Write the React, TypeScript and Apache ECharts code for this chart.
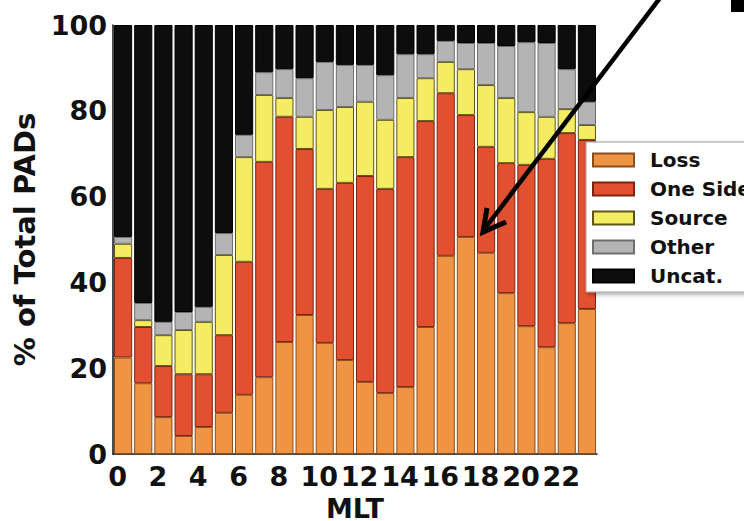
import React, { useEffect, useRef } from "react";
import * as echarts from "echarts";

// Magnetic local time bins
const mlt = Array.from({ length: 24 }, (_, i) => String(i));

// Percent of total PADs in each category per MLT bin
const loss = [22.5, 16.5, 8.6, 4.2, 6.3, 9.6, 13.8, 17.9, 26.1, 32.4, 25.9, 21.9, 16.8, 14.2, 15.6, 29.6, 46.2, 50.6, 46.9, 37.5, 29.8, 24.9, 30.5, 33.8];
const oneSide = [23.2, 13.1, 11.9, 14.4, 12.3, 18.1, 31.0, 50.2, 52.5, 38.7, 35.9, 41.3, 48.0, 47.6, 53.6, 48.0, 37.9, 28.4, 24.7, 30.3, 37.6, 43.9, 44.3, 39.4];
const source = [3.3, 1.6, 7.2, 10.3, 12.2, 18.7, 24.4, 15.6, 4.4, 7.5, 18.4, 17.7, 17.3, 16.1, 13.8, 10.0, 7.3, 10.7, 14.4, 15.2, 12.3, 9.8, 5.6, 3.5];
const other = [1.6, 4.0, 3.1, 4.2, 3.5, 5.1, 5.2, 5.3, 6.7, 9.0, 11.2, 9.8, 8.6, 10.4, 10.2, 5.6, 4.9, 6.1, 9.8, 12.1, 16.3, 17.2, 9.3, 5.4];
const uncat = [49.4, 64.8, 69.2, 66.9, 65.7, 48.5, 25.6, 11.0, 10.3, 12.4, 8.6, 9.3, 9.3, 11.7, 6.8, 6.8, 3.7, 4.2, 4.2, 4.9, 4.0, 4.2, 10.3, 17.9];

const yTicks = [0, 20, 40, 60, 80, 100];

const FONT = "DejaVu Sans";

const seriesDefs = [
  { name: "Loss", data: loss, color: "#EE9442", border: "#8a4f1c" },
  { name: "One Side", data: oneSide, color: "#E2502F", border: "#7c2412" },
  { name: "Source", data: source, color: "#F4EC62", border: "#5e5618" },
  { name: "Other", data: other, color: "#B4B4B4", border: "#6e6e6e" },
  { name: "Uncat.", data: uncat, color: "#0D0D0D", border: "#000000" },
];

export default function App() {
  const ref = useRef<HTMLDivElement>(null);

  useEffect(() => {
    if (!ref.current) return;
    const chart = echarts.init(ref.current, undefined, { renderer: "svg" });

    chart.setOption({
      animation: false,
      backgroundColor: "#ffffff",
      textStyle: { fontFamily: FONT },
      grid: {
        left: 113,
        right: 147,
        top: 25,
        bottom: 67,
        containLabel: false,
        outerBoundsMode: "none",
      },
      xAxis: {
        type: "category",
        data: mlt,
        boundaryGap: true,
        name: "MLT",
        nameLocation: "middle",
        nameGap: 36,
        nameTextStyle: {
          fontFamily: FONT,
          fontSize: 27,
          fontWeight: "bold",
          color: "#111",
        },
        axisLine: { show: true, lineStyle: { color: "#111", width: 1.5 } },
        axisTick: { show: false },
        axisLabel: {
          interval: 1,
          fontFamily: FONT,
          fontSize: 27,
          fontWeight: "bold",
          color: "#111",
          margin: 9,
          padding: [0, 11, 0, 0],
        },
      },
      yAxis: {
        type: "value",
        min: yTicks[0],
        max: yTicks[yTicks.length - 1],
        interval: 20,
        name: "% of Total PADs",
        nameLocation: "middle",
        nameGap: 70,
        nameTextStyle: { fontFamily: FONT, fontSize: 29, fontWeight: "bold", color: "#111" },
        axisLine: { show: true, lineStyle: { color: "#111", width: 1.5 } },
        axisTick: { show: false },
        splitLine: { show: false },
        axisLabel: {
          fontFamily: FONT,
          fontSize: 27,
          fontWeight: "bold",
          color: "#111",
          margin: 6,
        },
      },
      legend: {
        orient: "vertical",
        left: 586,
        top: 142,
        padding: [8, 12, 6, 6],
        itemWidth: 41,
        itemHeight: 13,
        itemGap: 9,
        icon: "rect",
        backgroundColor: "#ffffff",
        borderColor: "#a0a0a0",
        borderWidth: 1,
        shadowBlur: 4,
        shadowColor: "rgba(0,0,0,0.35)",
        shadowOffsetX: 2,
        shadowOffsetY: 2,
        textStyle: {
          fontFamily: FONT,
          fontSize: 20,
          fontWeight: "bold",
          color: "#111",
          lineHeight: 16,
          padding: [0, 0, 0, 11],
        },
        data: seriesDefs.map((s) => s.name),
      },
      series: seriesDefs.map((s) => ({
        name: s.name,
        type: "bar",
        stack: "total",
        data: s.data,
        barCategoryGap: "10%",
        itemStyle: { color: s.color, borderColor: s.border, borderWidth: 1 },
        emphasis: { disabled: true },
      })),
      graphic: [
        // annotation arrow pointing into the 18 MLT bar
        {
          type: "line",
          z: 100,
          shape: { x1: 660, y1: -2, x2: 486, y2: 227 },
          style: { stroke: "#000", lineWidth: 4.5 },
        },
        {
          type: "polyline",
          z: 100,
          shape: { points: [[487, 208], [483, 232], [506, 222]] },
          style: { stroke: "#000", lineWidth: 5, fill: "none", lineJoin: "miter" },
        },
        {
          type: "rect",
          z: 100,
          shape: { x: 731, y: 0, width: 13, height: 12 },
          style: { fill: "#000" },
        },
      ],
    });

    return () => chart.dispose();
  }, []);

  return (
    <div
      ref={ref}
      style={{ position: "absolute", left: 0, top: 0, width: 744, height: 521 }}
    />
  );
}
